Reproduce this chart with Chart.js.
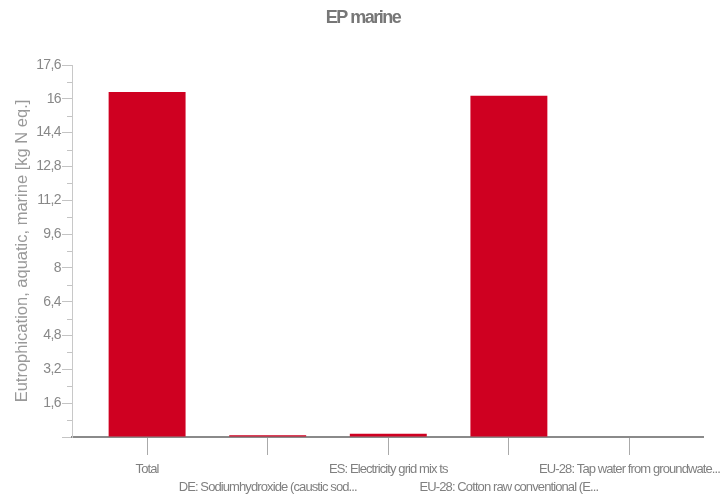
<!DOCTYPE html>
<html>
<head>
<meta charset="utf-8">
<script src="https://cdn.jsdelivr.net/npm/chart.js@4"></script>
<style>
html,body{margin:0;padding:0;background:#fff;}
#wrap{width:723px;height:497px;}
</style>
</head>
<body>
<div id="wrap"><canvas id="c" width="723" height="497"></canvas></div>
<script>
const categories = [
  'Total',
  'DE: Sodiumhydroxide (caustic sod...',
  'ES: Electricity grid mix ts',
  'EU-28: Cotton raw conventional (E...',
  'EU-28: Tap water from groundwate...'
];
const values = [16.32, 0.08, 0.15, 16.14, 0.02];
const yTicks = [0, 1.6, 3.2, 4.8, 6.4, 8, 9.6, 11.2, 12.8, 14.4, 16, 17.6];
const chartTitle = 'EP marine';
const yTitle = 'Eutrophication, aquatic, marine [kg N eq.]';

const SANS = "'Liberation Sans', Arial, sans-serif";

const points = values.map((v, i) => ({x: i, y: v}));

function wrapWithSpacing(obj, name, spacing, dx) {
  const orig = obj[name];
  obj[name] = function() {
    const c = this.ctx;
    c.save(); c.letterSpacing = spacing;
    if (dx) c.translate(dx, 0);
    const r = orig.apply(this, arguments);
    c.restore();
    return r;
  };
}

const spacingPlugin = {
  id: 'spacingPlugin',
  beforeDraw(chart) { chart.ctx.letterSpacing = '0px'; },
  afterLayout(chart) {
    const y = chart.scales.y, x = chart.scales.x;
    if (!y._wrapped) {
      wrapWithSpacing(y, 'drawLabels', '-0.6px');
      wrapWithSpacing(x, 'drawLabels', '-0.9px');
      y._wrapped = true;
    }
    const t = chart.titleBlock;
    if (t && !t._wrapped) {
      wrapWithSpacing(t, 'draw', '-1.5px', 11.5);
      t._wrapped = true;
    }
  },
  afterDatasetsDraw(chart) {
    const y = chart.scales.y, ctx = chart.ctx;
    ctx.save();
    ctx.strokeStyle = '#c4c4c4';
    ctx.lineWidth = 1;
    y.ticks.forEach((t, i) => {
      if (i % 2 === 1) {
        const py = Math.round(y.getPixelForValue(t.value)) + 0.5;
        ctx.beginPath();
        ctx.moveTo(y.right - 5, py);
        ctx.lineTo(y.right, py);
        ctx.stroke();
      }
    });
    ctx.restore();
  }
};

new Chart(document.getElementById('c'), {
  type: 'bar',
  data: {
    datasets: [{
      data: points,
      backgroundColor: '#cf0021',
      borderWidth: 0,
      barPercentage: 0.638,
      categoryPercentage: 1
    }]
  },
  options: {
    responsive: false,
    animation: false,
    layout: {padding: {left: 0, right: 20, top: 0, bottom: 0}},
    plugins: {
      legend: {display: false},
      tooltip: {enabled: false},
      title: {
        display: true,
        text: chartTitle,
        color: '#777',
        font: {family: SANS, size: 18, weight: 'bold'},
        padding: {top: 7.5, bottom: 35.9}
      }
    },
    scales: {
      x: {
        type: 'linear',
        offset: false,
        min: -0.6227,
        max: 4.6095,
        afterBuildTicks(s) { s.ticks = categories.map((_, i) => ({value: i})); },
        afterFit(s) { s.height = 60; s.paddingLeft = 0; s.paddingRight = 0; },
        grid: {offset: false, drawOnChartArea: false, tickLength: 18, tickColor: '#aaa', tickWidth: 1},
        border: {display: true, color: '#8a8a8a', width: 2},
        ticks: {
          autoSkip: false,
          maxRotation: 0,
          minRotation: 0,
          padding: 5,
          color: '#808080',
          font: {family: SANS, size: 13, lineHeight: 1.4},
          callback(v) {
            const i = Math.round(v);
            const lbl = categories[i] || '';
            return i % 2 === 0 ? [lbl, ''] : ['', lbl];
          }
        }
      },
      y: {
        min: 0,
        max: 17.6,
        afterBuildTicks(s) {
          const t = [];
          yTicks.forEach((v, i) => {
            t.push({value: v});
            if (i < yTicks.length - 1) t.push({value: (v + yTicks[i + 1]) / 2});
          });
          s.ticks = t;
        },
        afterFit(s) { s.width = 72; s.paddingTop = 0; s.paddingBottom = 0; },
        grid: {
          drawOnChartArea: false,
          tickLength: 10,
          tickColor: (c) => (c.index % 2 === 0 ? '#c4c4c4' : 'rgba(0,0,0,0)'),
          tickWidth: 1
        },
        border: {display: true, color: '#c8c8c8', width: 1},
        title: {
          display: true,
          text: yTitle,
          color: '#999',
          font: {family: SANS, size: 16.5, weight: 'normal'},
          padding: {top: 13, bottom: 0}
        },
        ticks: {
          autoSkip: false,
          padding: 1,
          color: '#888',
          font: {family: SANS, size: 14},
          callback(v, i) {
            if (i % 2 === 1 || v === 0) return '';
            return String(Math.round(v * 10) / 10).replace('.', ',');
          }
        }
      }
    }
  },
  plugins: [spacingPlugin]
});
</script>
</body>
</html>
